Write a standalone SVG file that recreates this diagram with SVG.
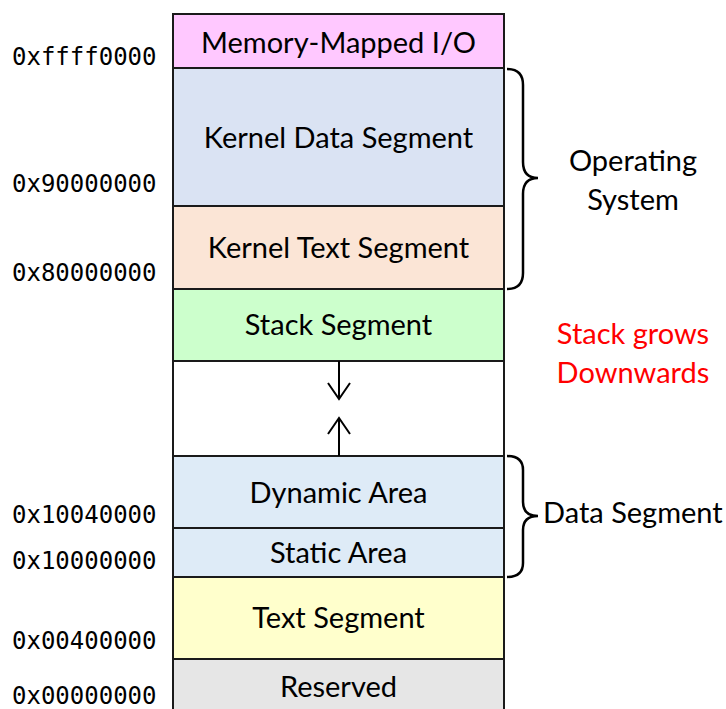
<svg xmlns="http://www.w3.org/2000/svg" width="726" height="709" viewBox="0 0 726 709">
<style>
.seg{stroke:#1a1a1a;stroke-width:2}
.t{font-family:Lato,"Open Sans","Liberation Sans",sans-serif;font-size:29px;fill:#000;text-anchor:middle}
.a{font-family:"DejaVu Sans Mono","Liberation Mono",monospace;font-size:24px;fill:#000}
.br{fill:none;stroke:#000;stroke-width:2.5}
.ar{fill:none;stroke:#000;stroke-width:2}
</style>
<defs>
<marker id="head" viewBox="0 0 19 24" refX="17" refY="12" markerWidth="19" markerHeight="24" markerUnits="userSpaceOnUse" orient="auto">
<path d="M1,1 L17,12 L1,23" fill="none" stroke="#000" stroke-width="2"/>
</marker>
</defs>
<rect width="726" height="709" fill="#fff"/>
<g id="mmio"><rect class="seg" x="173" y="14" width="331" height="54" fill="#FFC8FF"/><text class="t" x="338.5" y="53">Memory-Mapped I/O</text></g>
<g id="kdata"><rect class="seg" x="173" y="68" width="331" height="138" fill="#DAE3F3"/><text class="t" x="338.5" y="148">Kernel Data Segment</text></g>
<g id="ktext"><rect class="seg" x="173" y="206" width="331" height="83" fill="#FBE5D6"/><text class="t" x="338.5" y="258">Kernel Text Segment</text></g>
<g id="stack"><rect class="seg" x="173" y="289" width="331" height="72" fill="#CCFFCC"/><text class="t" x="338.5" y="335">Stack Segment</text></g>
<g id="free"><rect class="seg" x="173" y="361" width="331" height="95" fill="#FFFFFF"/></g>
<g id="dynamic"><rect class="seg" x="173" y="456" width="331" height="72" fill="#DEEBF7"/><text class="t" x="338.5" y="503">Dynamic Area</text></g>
<g id="static"><rect class="seg" x="173" y="528" width="331" height="49" fill="#DEEBF7"/><text class="t" x="338.5" y="563">Static Area</text></g>
<g id="textseg"><rect class="seg" x="173" y="577" width="331" height="82" fill="#FFFFCC"/><text class="t" x="338.5" y="628">Text Segment</text></g>
<g id="reserved"><rect class="seg" x="173" y="659" width="331" height="60" fill="#E6E6E6"/><text class="t" x="338.5" y="697">Reserved</text></g>
<g id="addresses">
<text class="a" x="12" y="65">0xffff0000</text>
<text class="a" x="12" y="192">0x90000000</text>
<text class="a" x="12" y="281">0x80000000</text>
<text class="a" x="12" y="523">0x10040000</text>
<text class="a" x="12" y="569">0x10000000</text>
<text class="a" x="12" y="649">0x00400000</text>
<text class="a" x="12" y="704">0x00000000</text>
</g>
<g id="os-label">
<path class="br" d="M507,69 Q523,69 523,85 L523,162 Q523,178 538,178 Q523,178 523,194 L523,273 Q523,289 507,289"/>
<text class="t" x="633" y="171">Operating</text>
<text class="t" x="633" y="210">System</text>
</g>
<g id="data-label">
<path class="br" d="M507,456 Q523,456 523,470 L523,502 Q523,516 538,516 Q523,516 523,530 L523,563 Q523,577 507,577"/>
<text class="t" x="543" y="523" style="text-anchor:start">Data Segment</text>
</g>
<g id="stack-note">
<text class="t" x="633" y="344" style="fill:#FF0000">Stack grows</text>
<text class="t" x="633" y="383" style="fill:#FF0000">Downwards</text>
</g>
<g id="connectors">
<line class="ar" x1="339" y1="361" x2="339" y2="399" marker-end="url(#head)"/>
<line class="ar" x1="339" y1="456" x2="339" y2="418" marker-end="url(#head)"/>
</g>
</svg>
